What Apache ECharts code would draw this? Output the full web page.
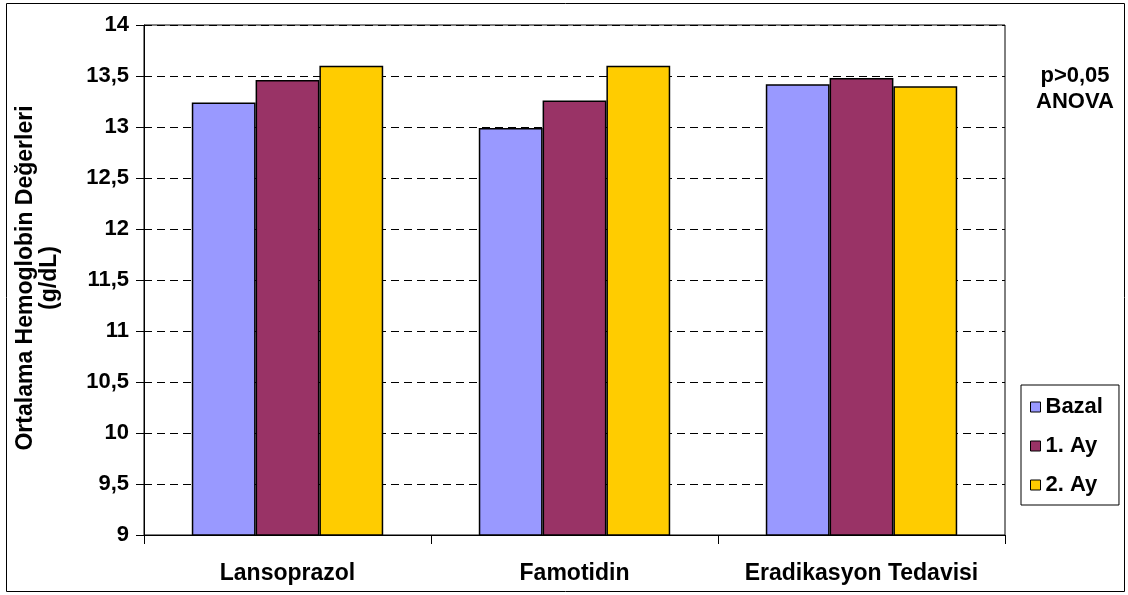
<!DOCTYPE html>
<html>
<head>
<meta charset="utf-8">
<script src="https://cdn.jsdelivr.net/npm/echarts@6/dist/echarts.min.js"></script>
<style>
  html, body { margin: 0; padding: 0; background: #fff; }
  #chart { width: 1128px; height: 595px; }
</style>
</head>
<body>
<div id="chart"></div>
<script>
// Mean hemoglobin values (g/dL) per treatment group and visit
const categories = ['Lansoprazol', 'Famotidin', 'Eradikasyon Tedavisi'];
const seriesNames = ['Bazal', '1. Ay', '2. Ay'];
const bazal = [13.24, 12.99, 13.42];
const ay1 = [13.46, 13.26, 13.48];
const ay2 = [13.60, 13.60, 13.40];
const seriesColors = ['#9999FF', '#993366', '#FFCC00'];
const yMin = 9, yMax = 14, yStep = 0.5;
const yTitle = 'Ortalama Hemoglobin Değerleri\n(g/dL)';
const noteLines = ['p>0,05', 'ANOVA'];

const FONT = '"Liberation Sans", Arial, sans-serif';
const chart = echarts.init(document.getElementById('chart'), null, { renderer: 'canvas' });

const values = [bazal, ay1, ay2];
const series = seriesNames.map((name, i) => ({
  name,
  type: 'bar',
  data: values[i],
  barGap: '0%',
  barCategoryGap: '33.3%',
  itemStyle: { color: seriesColors[i], borderColor: '#000', borderWidth: 1.5 },
  emphasis: { disabled: true },
  animation: false
}));

chart.setOption({
  animation: false,
  textStyle: { fontFamily: FONT },
  grid: {
    left: 144, top: 25, right: 123, bottom: 60,
    show: true, borderColor: '#000', borderWidth: 1, containLabel: false
  },
  legend: {
    orient: 'vertical',
    left: 1021, top: 385,
    padding: [11, 16, 9, 9],
    itemGap: 17,
    itemWidth: 10, itemHeight: 10,
    icon: 'rect',
    borderColor: '#000', borderWidth: 1,
    itemStyle: { borderColor: '#000', borderWidth: 1 },
    textStyle: { fontFamily: FONT, fontWeight: 'bold', fontSize: 22, color: '#000', lineHeight: 22 },
    data: seriesNames,
    selectedMode: false
  },
  xAxis: {
    type: 'category',
    data: categories,
    boundaryGap: true,
    axisLine: { lineStyle: { color: '#000', width: 1 } },
    axisTick: { show: true, length: 9, interval: 0, alignWithLabel: false, lineStyle: { color: '#000' } },
    axisLabel: {
      interval: 0, hideOverlap: false,
      fontFamily: FONT, fontWeight: 'bold', fontSize: 23, color: '#000', margin: 27
    },
    splitLine: { show: false }
  },
  yAxis: {
    type: 'value',
    min: yMin, max: yMax, interval: yStep,
    axisLine: { show: true, lineStyle: { color: '#000', width: 1 } },
    axisTick: { show: true, length: 8, lineStyle: { color: '#000' } },
    axisLabel: {
      fontFamily: FONT, fontWeight: 'bold', fontSize: 22, color: '#000', margin: 15,
      formatter: v => String(v).replace('.', ',')
    },
    splitLine: { show: true, lineStyle: { color: '#000', width: 1, type: [8, 5] } }
  },
  graphic: [
    {
      type: 'rect', silent: true, z: -1,
      shape: { x: 6.5, y: 3.5, width: 1118, height: 588 },
      style: { fill: 'none', stroke: '#000', lineWidth: 1 }
    },
    {
      type: 'text', silent: true,
      x: 38, y: 278, rotation: Math.PI / 2,
      style: {
        text: yTitle, fontFamily: FONT, fontWeight: 'bold', fontSize: 23,
        lineHeight: 24, fill: '#000', align: 'center', verticalAlign: 'middle'
      }
    },
    {
      type: 'text', silent: true,
      x: 1075, y: 89,
      style: {
        text: noteLines.join('\n'), fontFamily: FONT, fontWeight: 'bold', fontSize: 22,
        lineHeight: 26, fill: '#000', align: 'center', verticalAlign: 'middle'
      }
    }
  ],
  series
});
</script>
</body>
</html>
